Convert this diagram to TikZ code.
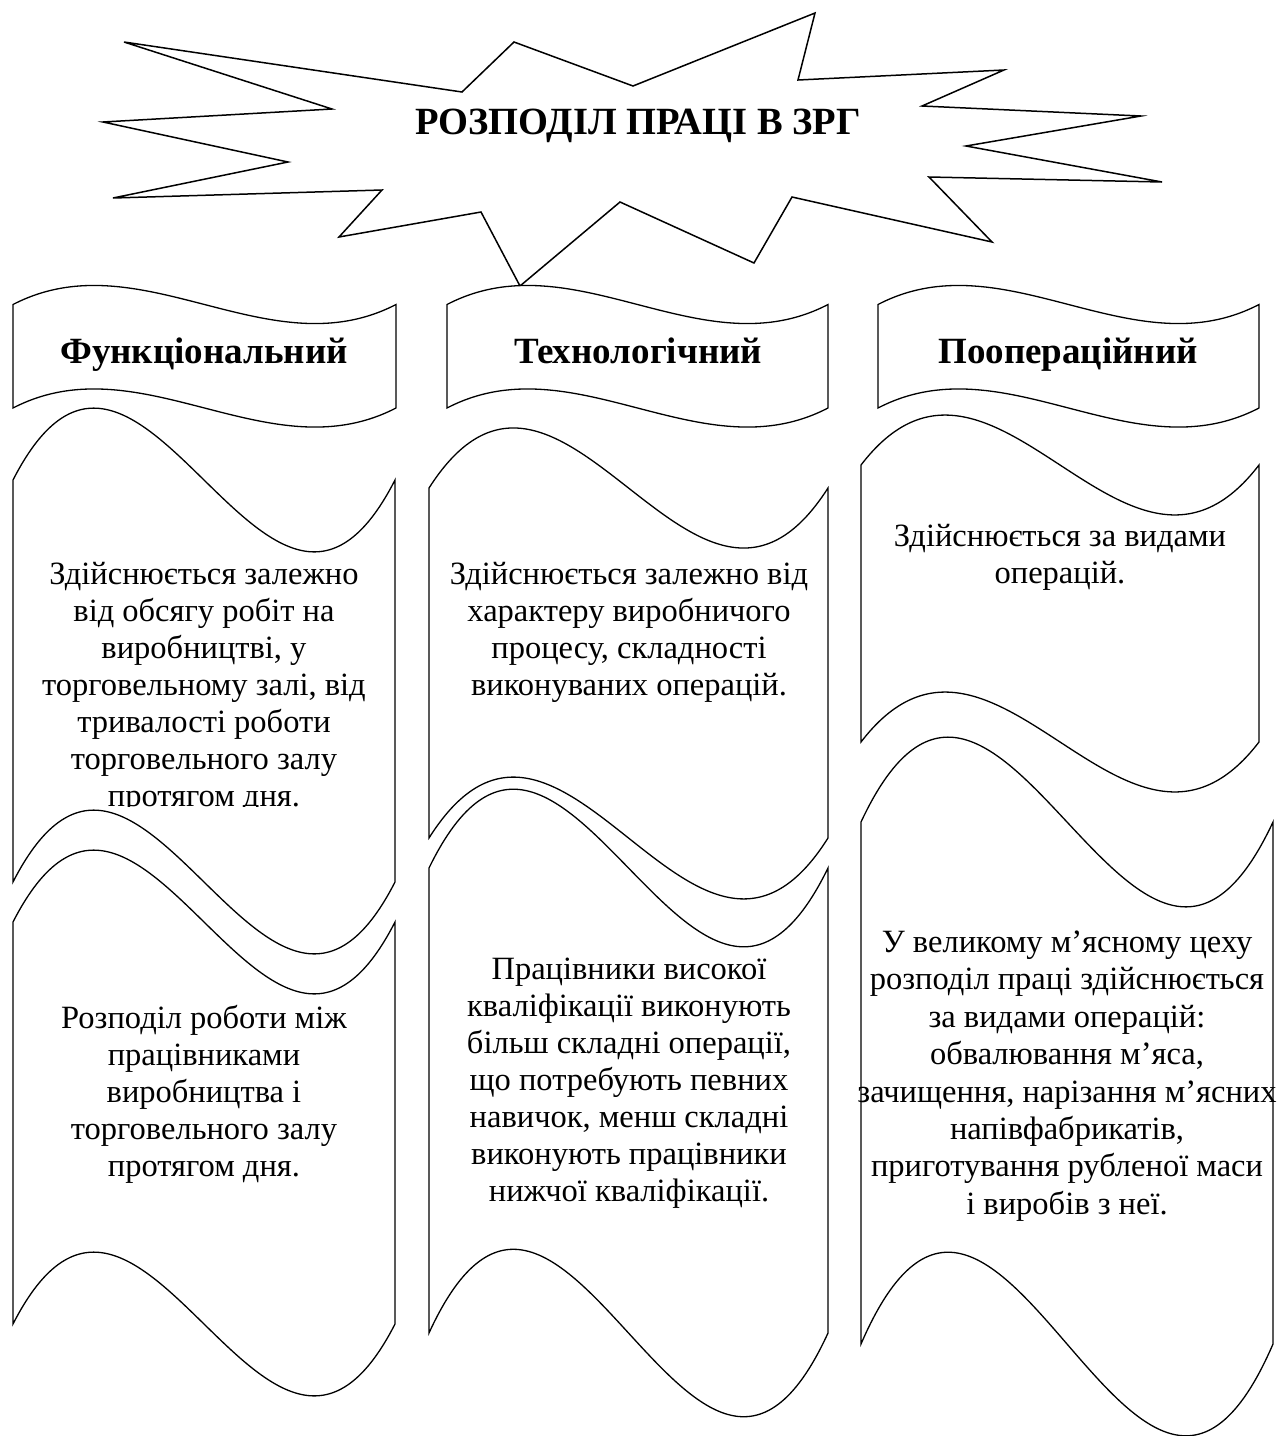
\documentclass[tikz,border=0pt]{standalone}
\usepackage{fontspec}
\setmainfont{Liberation Serif}
\newcommand\mytape[6]{% x0, x1, ytop, ktop, ybot, kbot
  \pgfmathsetmacro\tw{#2-#1}%
  \draw[shapeline] (#1,#3) .. controls ({#1+\tw/3},{#3-#4}) and ({#1+2*\tw/3},{#3+#4}) .. (#2,#3)
     -- (#2,#5) .. controls ({#1+2*\tw/3},{#5+#6}) and ({#1+\tw/3},{#5-#6}) .. (#1,#5) -- cycle;}
\begin{document}
\begin{tikzpicture}[x=1pt,y=-1pt,
  shapeline/.style={draw=black, line width=1.3pt, fill=white, line join=miter},
  body/.style={align=center, font=\fontsize{32.5}{37}\selectfont, inner sep=0pt},
  header/.style={font=\fontsize{37}{44}\selectfont\bfseries, inner sep=0pt, anchor=base},
  titletext/.style={font=\fontsize{38.5}{46}\selectfont\bfseries, inner sep=0pt, anchor=base}]
\useasboundingbox (0,0) rectangle (1285,1436);
\fill[white] (0,0) rectangle (1285,1436);

% star
\draw[shapeline, line width=1.5pt] (124,42) -- (462,92) -- (514,42) -- (633,86) -- (815,13) -- (798,80)
  -- (1004,70) -- (922,106) -- (1141,116) -- (966,146) -- (1162,182) -- (929,177)
  -- (992,242) -- (792,197) -- (754,263) -- (620,202) -- (520,286) -- (481,212)
  -- (339,237) -- (382,190) -- (113,198) -- (288,162) -- (103,122) -- (332,109) -- cycle;
\node[titletext] (title) at (638,134) {РОЗПОДІЛ ПРАЦІ В ЗРГ};

% header banners
\mytape{13}{396}{304.5}{66}{408}{66}
\mytape{447}{828}{304.5}{66}{408}{66}
\mytape{878}{1259}{304.5}{66}{408}{66}
\node[header] (h1) at (204,363) {Функціональний};
\node[header] (h2) at (638,363) {Технологічний};
\node[header] (h3) at (1068,363) {Поопераційний};

% column 1
\mytape{13}{395}{480}{249}{882}{249}
\mytape{13}{395}{922}{249}{1324}{249}
% column 2
\mytape{429}{828}{488}{208}{838}{211}
\mytape{429}{828}{868}{273}{1333}{290}
% column 3
\mytape{861}{1259}{465}{173}{742}{173}
\mytape{861}{1273}{822}{294}{1344}{318}

\begin{scope}
\clip (0,0) rectangle (1285,806);
\node[body] (tA1) at (204,688) {Здійснюється залежно\\від обсягу робіт на\\виробництві, у\\торговельному залі, від\\тривалості роботи\\торговельного залу\\протягом дня.};
\end{scope}
\node[body] (tB1) at (204,1094) {Розподіл роботи між\\працівниками\\виробництва і\\торговельного залу\\протягом дня.};
\node[body] (tA2) at (629,632) {Здійснюється залежно від\\характеру виробничого\\процесу, складності\\виконуваних операцій.};
\node[body] (tB2) at (629,1083) {Працівники високої\\кваліфікації виконують\\більш складні операції,\\що потребують певних\\навичок, менш складні\\виконують працівники\\нижчої кваліфікації.};
\node[body] (tA3) at (1060,557) {Здійснюється за видами\\операцій.};
\node[body, font=\fontsize{32.5}{37.4}\selectfont] (tB3) at (1067,1076) {У великому м’ясному цеху\\розподіл праці здійснюється\\за видами операцій:\\обвалювання м’яса,\\зачищення, нарізання м’ясних\\напівфабрикатів,\\приготування рубленої маси\\і виробів з неї.};
\end{tikzpicture}
\end{document}
